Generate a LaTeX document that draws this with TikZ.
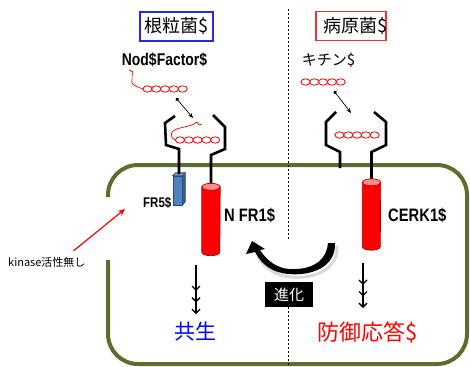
\documentclass[tikz,border=0pt]{standalone}
\usepackage{fontspec}
\setmainfont{Liberation Sans}
\newfontfamily\jp{Noto Sans CJK JP}
\newfontfamily\narrow[FakeStretch=0.82]{Liberation Sans}
\usetikzlibrary{arrows.meta}

\definecolor{membrane}{RGB}{92,110,46}
\definecolor{nfrblue}{RGB}{79,129,189}
\definecolor{nfrside}{RGB}{58,96,146}
\definecolor{nfredge}{RGB}{44,72,112}
\definecolor{boxblue}{RGB}{40,40,230}
\definecolor{boxred}{RGB}{240,50,50}

\tikzset{
    titlebox/.style={line width=1.2pt, minimum height=29pt, inner sep=0pt},
    titletext/.style={font=\jp\fontsize{18}{20}\selectfont, inner sep=0pt},
    rlbl/.style={font=\narrow\bfseries\fontsize{18}{20}\selectfont, anchor=west, inner sep=0pt},
    receptor/.style={line width=2.6pt, line join=miter},
    link/.style={draw=red, fill=white, line width=0.8pt},
    lipid/.style={red, line width=0.7pt},
    bindarrow/.style={line width=0.7pt, {Circle[length=3.5pt]}-{Stealth[length=5pt,width=4pt]}},
    cylbody/.style={minimum width=18pt, inner sep=0pt},
    signal/.style={line width=1.3pt,
        -{Straight Barb[length=4pt,width=8pt,sep=6pt] Straight Barb[length=4pt,width=8pt,sep=6pt] Straight Barb[length=4pt,width=8pt]}},
}

\begin{document}
\begin{tikzpicture}[x=1pt, y=-1pt]
    \useasboundingbox (0,0) rectangle (470,366);

    % 細胞膜 (左側は途中で切れる)
    \draw[membrane, line width=4pt, rounded corners=30pt]
        (108,197) -- (108,165) -- (467,165) -- (467,364) -- (108,364) -- (108,260);

    % 中央の点線
    \coordinate (divtop) at (288,9);
    \coordinate (divmid) at (288,240);
    \coordinate (divbot) at (288,366);
    \draw[line width=0.8pt, dash pattern=on 2pt off 2pt] (divtop) -- (divmid);

    % 見出し
    \node[titlebox, draw=boxblue, minimum width=73pt] (rhizo) at (176.5,26.5) {};
    \node[titletext] (rhizotxt) at (rhizo.center) {根粒菌\$};
    \node[titlebox, draw=boxred, minimum width=70pt] (patho) at (351,26) {};
    \node[titletext] (pathotxt) at ([xshift=4pt]patho.center) {病原菌\$};

    % リガンド
    \node[font=\narrow\bfseries\fontsize{17}{19}\selectfont, inner sep=0pt] (nodf) at (164.5,60) {Nod\$Factor\$};
    \node[font=\jp\fontsize{15}{17}\selectfont, inner sep=0pt] (chitin) at (328.5,60) {キチン\$};

    \draw[lipid] (129,70) -- (133,72) .. controls (131,77) and (133,80) .. (132,83)
        .. controls (134,86) and (138,87) .. (143,89);
    \foreach \i in {0,...,4}
        \draw[link] (147.5+8.8*\i,89) ellipse[x radius=4.6pt, y radius=3.2pt];
    \foreach \i in {0,...,4}
        \draw[link] (305.5+8.8*\i,82) ellipse[x radius=4.6pt, y radius=3.2pt];

    \coordinate (nodA) at (176,98);
    \coordinate (nodB) at (193,118);
    \coordinate (chiA) at (334,91);
    \coordinate (chiB) at (351,113);
    \draw[bindarrow] (nodA) -- (nodB);
    \draw[bindarrow] (chiA) -- (chiB);

    % 受容体の胴体 (円柱は後で描く)
    \node[cylbody, minimum height=65pt] (nfr1) at (211,219.5) {};
    \node[cylbody, minimum height=64pt] (cerk1) at (371.5,214.5) {};

    % 受容体 (NFR5 / NFR1)
    \node[fill=nfrblue, draw=nfredge, line width=0.6pt, minimum width=9pt, minimum height=29pt,
        inner sep=0pt] (nfr5) at (177.5,190.5) {};
    \filldraw[fill=nfrside, draw=nfredge, line width=0.6pt]
        (nfr5.north east) -- ++(3,-3) -- ++(0,29) -- (nfr5.south east) -- cycle;
    \filldraw[fill=nfrblue!80!white, draw=nfredge, line width=0.6pt]
        (nfr5.north west) -- ++(3,-3) -- ++(9,0) -- (nfr5.north east) -- cycle;

    \draw[receptor] (175,116) -- (165,123) -- (166,145) -- (179,149)
        -- ([shift={(1.5,-1.5)}]nfr5.north);
    \draw[receptor] (213,115) -- (225,127) -- (225,149) -- (211,155) -- (nfr1.north);

    \draw[lipid] (202,124) -- (199,125) -- (197,122) -- (194,124)
        .. controls (185,128) and (178,127) .. (173,131)
        .. controls (170,134) and (171,138) .. (175,140);
    \foreach \i in {0,...,4}
        \draw[link] (180+8.8*\i,140) ellipse[x radius=4.6pt, y radius=3.2pt];

    % 受容体 (CERK1)
    \coordinate (cerkfoot) at (340,168);
    \draw[receptor] (336,112) -- (326,122) -- (326,145) -- (340,152) -- (cerkfoot);
    \draw[receptor] (374,112) -- (386,122) -- (386,145) -- (371.5,152) -- (cerk1.north);
    \foreach \i in {0,...,4}
        \draw[link] (339.5+8.8*\i,135) ellipse[x radius=4.6pt, y radius=3.2pt];

    % 円柱
    \foreach \c in {nfr1,cerk1} {
        \filldraw[fill=red, draw=red!70!black, line width=0.7pt]
            (\c.north west) -- (\c.south west)
            arc[start angle=180, end angle=360, x radius=9pt, y radius=3.5pt]
            -- (\c.north east) -- cycle;
        \filldraw[fill=red!45, draw=red!70!black, line width=0.7pt]
            (\c.north) ellipse[x radius=9pt, y radius=3.5pt];
    }

    % ラベル
    \node[rlbl, font=\narrow\bfseries\fontsize{14}{16}\selectfont] (nfr5lbl) at (143,203) {FR5\$};
    \node[rlbl] (nfr1lbl) at (224,215) {N FR1\$};
    \node[rlbl] (cerk1lbl) at (388,215) {CERK1\$};

    % 進化の矢印
    \draw[gray, opacity=0.3, line width=3pt] (337,246) .. controls (338,271) and (312,279) .. (291,277)
        .. controls (276,276) and (265,268) .. (258,257);
    \fill (335,243) .. controls (336,268) and (310,276) .. (289,274)
        .. controls (273,273) and (262,265) .. (255,252) -- (246,254) -- (252,241)
        -- (265,249) -- (260,250) .. controls (267,261) and (277,268) .. (289,269)
        .. controls (308,270) and (326,264) .. (328,243) -- cycle;
    \node[fill=black, text=white, font=\jp\fontsize{15}{17}\selectfont, minimum width=48pt,
        minimum height=25pt, inner sep=0pt] (shinka) at (289,294.5) {進化};
    \draw[line width=0.8pt, dash pattern=on 2pt off 2pt] (shinka.south -| divbot) -- (divbot);

    % 下流の応答
    \node[font=\jp\fontsize{21}{23}\selectfont, text=blue, inner sep=0pt] (kyosei) at (195,332) {共生};
    \node[font=\jp\fontsize{22}{24}\selectfont, text=red, inner sep=0pt] (bogyo) at (368,332) {防御応答\$};
    \coordinate (symtop) at (196,265);
    \coordinate (deftop) at (363,263);
    \draw[signal, shorten >=8pt] (symtop) -- (symtop |- kyosei.north);
    \draw[signal, shorten >=13pt] (deftop) -- (deftop |- bogyo.north);

    % 注記
    \node[font=\jp\fontsize{11}{13}\selectfont, anchor=west, inner sep=0pt] (kinase) at (8,262) {kinase活性無し};
    \coordinate (kintip) at (125,209);
    \draw[red, line width=1.2pt, -{Stealth[length=7pt,width=6pt]}]
        ([shift={(-12,-6)}]kinase.north east) -- (kintip);
\end{tikzpicture}
\end{document}
